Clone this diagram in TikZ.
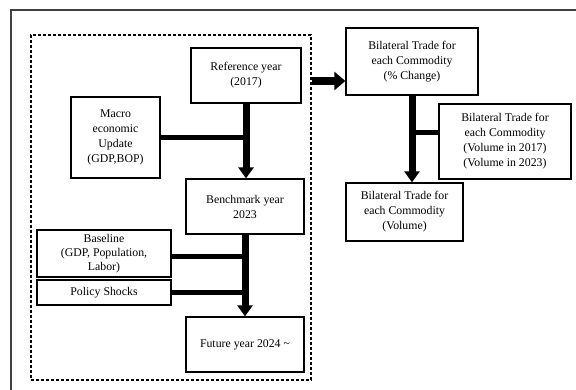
\documentclass[tikz,border=0pt]{standalone}
\usepackage{fontspec}
\setmainfont{Liberation Serif}
\usetikzlibrary{arrows.meta, positioning}

\begin{document}
\begin{tikzpicture}[
    x=1pt, y=-1pt,
    box/.style={rectangle, draw, line width=1.3pt, text centered, align=center, inner sep=0pt, font=\fontsize{11.8}{15}\selectfont},
    flow/.style={line width=7pt, -{Triangle[width=15pt, length=11pt]}},
    feed/.style={line width=5pt},
    frame/.style={draw=black!75, line width=1.5pt}
]
\useasboundingbox (0,0) rectangle (576,390);

% outer frame and model area
\draw[frame] (576,10) -- (11,10) -- (11,390);
\node[draw, dash pattern=on 3pt off 2pt, line width=1.5pt, minimum width=280pt, minimum height=345pt, inner sep=0pt] (model) at (171,207.5) {};

\node[box, minimum width=110pt, minimum height=55pt] (ref) at (246,75.5) {Reference year\\(2017)};
\node[box, minimum width=89pt, minimum height=81pt] (macro) at (115.5,137.5) {Macro\\economic\\Update\\(GDP,BOP)};
\node[box, minimum width=118pt, minimum height=55pt] (bench) at (245,206.5) {Benchmark year\\2023};
\node[box, minimum width=134pt, minimum height=47pt, font=\fontsize{11.8}{14}\selectfont] (baseline) at (104,253.5) {Baseline\\(GDP, Population,\\Labor)};
\node[box, minimum width=134pt, minimum height=25pt] (policy) at (104,292.5) {Policy Shocks};
\node[box, minimum width=118pt, minimum height=55pt] (future) at (245,344.5) {Future year 2024 \textasciitilde};

\node[box, minimum width=132pt, minimum height=67pt] (pct) at (412,61.5) {Bilateral Trade for\\each Commodity\\(\% Change)};
\node[box, minimum width=132pt, minimum height=75pt] (vol17) at (505,141.5) {Bilateral Trade for\\each Commodity\\(Volume in 2017)\\(Volume in 2023)};
\node[box, minimum width=117pt, minimum height=58pt] (vol) at (404.5,212) {Bilateral Trade for\\each Commodity\\(Volume)};

% model chain
\draw[feed] (macro.east) -- (macro.east -| ref.south);
\draw[flow] (ref.south) -- (ref.south |- bench.north);
\draw[feed] ([yshift=-3.5pt]baseline.east) -- ([yshift=-3.5pt]baseline.east -| bench.south);
\draw[feed] (policy.east) -- (policy.east -| bench.south);
\draw[flow] (bench.south) -- (future.north);

% trade results
\coordinate (into) at ([yshift=-19.5pt]pct.west);
\draw[flow, line width=8pt, -{Triangle[width=18pt, length=11pt]}] (model.east |- into) -- (into);
\draw[feed] ([yshift=9pt]vol17.west) -- ([yshift=9pt]vol17.west -| pct.south);
\draw[flow] (pct.south) -- (pct.south |- vol.north);

\end{tikzpicture}
\end{document}
